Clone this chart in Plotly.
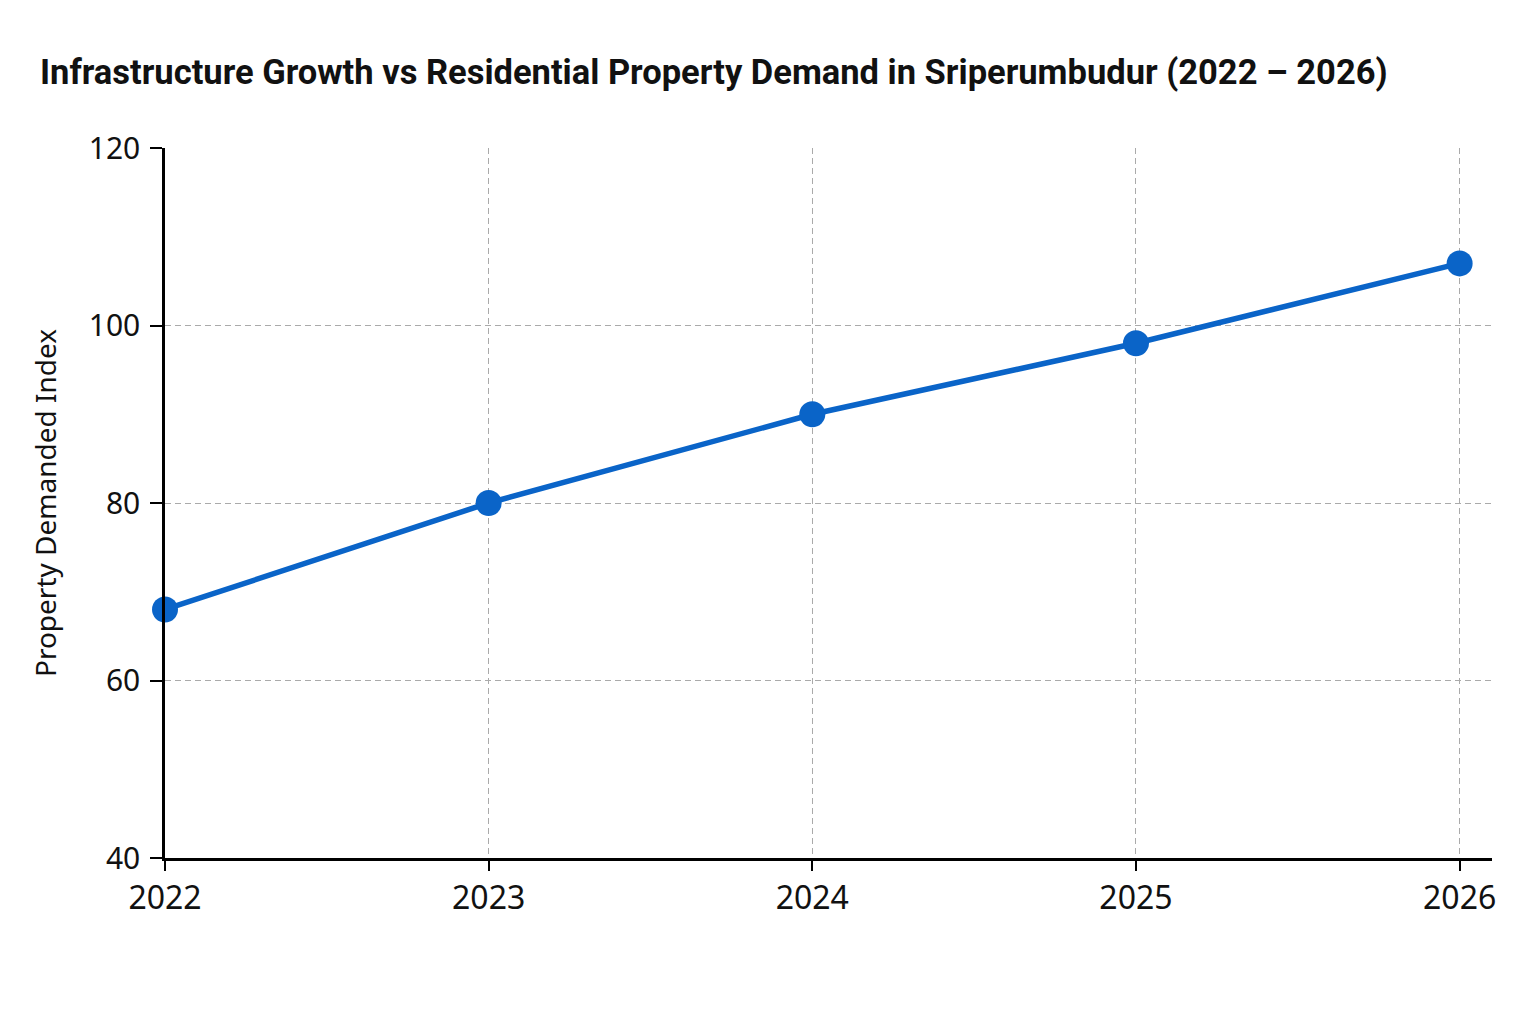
import plotly.graph_objects as go

years = [2022, 2023, 2024, 2025, 2026]
demand_index = [68, 80, 90, 98, 107]
y_ticks = [40, 60, 80, 100, 120]

fig = go.Figure()
fig.add_trace(go.Scatter(
    x=years, y=demand_index, mode="lines+markers",
    line=dict(color="#0a64c8", width=5.5),
    marker=dict(color="#0a64c8", size=26),
    cliponaxis=False,
    showlegend=False,
))

fig.update_layout(
    width=1536, height=1024,
    paper_bgcolor="white", plot_bgcolor="white",
    margin=dict(l=157, r=52, t=140, b=174),
    title=dict(
        text="<b>Infrastructure Growth vs Residential Property Demand in Sriperumbudur (2022 – 2026)</b>",
        x=32 / 1536, xanchor="left", y=1 - 64 / 1024, yanchor="middle",
        font=dict(family="Roboto", size=34.5, color="#111111"),
    ),
)
fig.update_xaxes(
    range=[2022, 2026.1], tickvals=years, ticktext=[str(y) for y in years],
    showline=True, linecolor="black", linewidth=2.5,
    ticks="outside", ticklen=10, tickwidth=2, tickcolor="black",
    showgrid=True, gridcolor="#aaaaaa", griddash="6px,4px", gridwidth=1,
    tickfont=dict(family="Noto Sans", size=32, color="#111111"),
    zeroline=False,
)
fig.update_yaxes(
    range=[40, 120], tickvals=y_ticks,
    showline=True, linecolor="black", linewidth=2.5,
    ticks="outside", ticklen=12, tickwidth=2, tickcolor="black",
    ticklabelstandoff=4,
    showgrid=True, gridcolor="#aaaaaa", griddash="6px,4px", gridwidth=1,
    tickfont=dict(family="Noto Sans", size=30, color="#111111"),
    title=dict(text="Property Demanded Index", standoff=24,
               font=dict(family="Noto Sans", size=28, color="#111111")),
    zeroline=False,
)

fig.write_html("out.html")
